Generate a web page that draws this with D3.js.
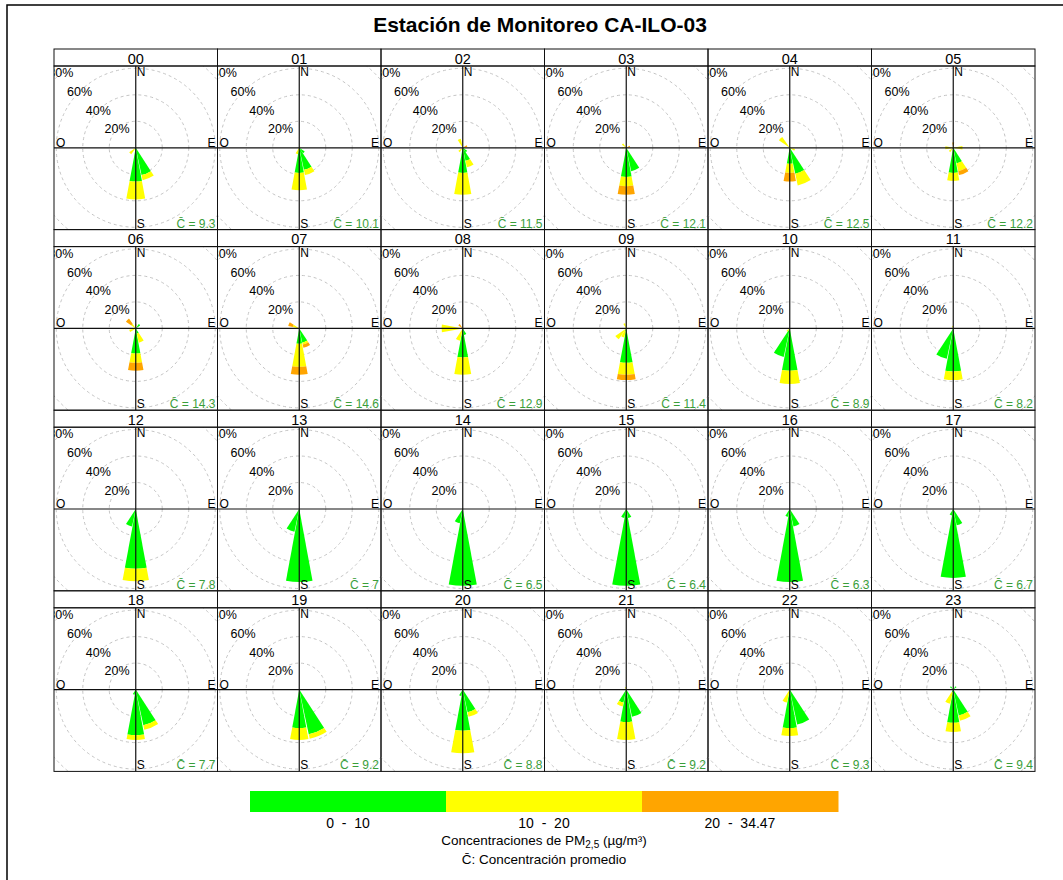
<!DOCTYPE html>
<html>
<head>
<meta charset="utf-8">
<script src="https://cdn.jsdelivr.net/npm/d3@7"></script>
<style>
body { margin: 0; background: #fff; }
svg text { font-family: "Liberation Sans", Arial, sans-serif; }
</style>
</head>
<body>
<script>
var hours = ["00","01","02","03","04","05","06","07","08","09","10","11",
	"12","13","14","15","16","17","18","19","20","21","22","23"]
var meanConc = ["9.3","10.1","11.5","12.1","12.5","12.2","14.3","14.6","12.9","11.4","8.9","8.2",
	"7.8","7","6.5","6.4","6.3","6.7","7.7","9.2","8.8","9.2","9.3","9.4"]
var binLabels = ["0  -  10", "10  -  20", "20  -  34.47"]
var binColors = ["#00ff00", "#ffff00", "#ffa500"]
var ringTicks = [20, 40, 60, 80]

// [hora, sector (0 = N, 16 sectores), % 0-10, % 10-20, % 20-34.47]
var petals = [
	[0,8,25.5,13.5,0],[0,7,21,4,0],[0,10,1,5,0],
	[1,8,19,13,0],[1,7,17,4,0],[1,6,5,0,0],[1,9,0.5,4.5,0],[1,1,0,1.5,0],
	[2,8,19,16.5,0],[2,7,10,5,0],[2,6,4,0,0],[2,15,0,7,0],[2,3,0,1,2.5],[2,10,0,4,0],
	[3,8,22,7,6.5],[3,7,18,0,0],[3,14,0,4,0],[3,3,0,0,3],[3,12,0,3,0],
	[4,8,12,7,6.5],[4,7,20,9,0],[4,14,0,10,0],[4,5,0,4,0],
	[5,8,19,6,0],[5,7,12,6,3],[5,12,0,6,0],[5,4,0,7,0],[5,0,0,0,4],[5,10,0,4,0],
	[6,8,19,7,6],[6,7,4,7,0],[6,14,0,4,5],[6,11,0,5,0],[6,2,4,0,0],[6,0,0,0,3],
	[7,8,11.5,17.5,6],[7,7,11,1.5,2.5],[7,13,0,5,3.5],
	[8,8,22,13,0],[8,7,5,0,0],[8,12,0,16,0],[8,14,0,0,4],[8,9,0,9.5,0],
	[9,8,26,9,4],[9,9,2,5,0],[9,10,0,10,0],[9,15,0,4,0],
	[10,8,32,10,0],[10,9,22,0,0],[10,10,0,3,0],
	[11,8,32.5,6.5,0],[11,9,23.5,0,0],[11,15,0,2,0],
	[12,8,45,9.5,0],[12,9,13.5,0,0],
	[13,8,55,0,0],[13,9,17.5,0,0],
	[14,8,58,0,0],[14,9,11,0,0],
	[15,8,58,0,0],[15,7,7,0,0],[15,9,7,0,0],
	[16,8,55,0,0],[16,7,13.5,0,0],[16,9,6,0,0],
	[17,8,52,0,0],[17,7,12.5,0,0],[17,9,5,0,0],
	[18,8,34.5,3.5,0],[18,7,27.5,3.5,0],[18,9,4,0,0],
	[19,8,29,9,0],[19,7,34.5,3.5,0],
	[20,8,31,17,0],[20,7,17.5,3.5,0],[20,9,5,0,0],
	[21,8,24.5,13.5,0],[21,7,21,0,0],[21,9,10,3,0],[21,15,0,2,0],
	[22,8,29,6,0],[22,7,27,0,0],[22,9,0,10,0],
	[23,8,25,7,0],[23,7,20,4,0],[23,9,2,9,0],[23,14,3,0,0],[23,2,3,0,0]
]

var w = 1063, h = 880
var svg = d3.select("body").append("svg").attr("width", w).attr("height", h)

//marco exterior
svg.append("rect")
	.attr("x", 7).attr("y", 5).attr("width", 1080).attr("height", 900)
	.attr("fill", "none").attr("stroke", "#000").attr("stroke-width", 1.5)

svg.append("text")
	.attr("x", 540).attr("y", 32)
	.attr("text-anchor", "middle")
	.style("font-size", "21px").style("font-weight", "bold")
	.text("Estación de Monitoreo CA-ILO-03")

var col = d3.scaleBand().domain(d3.range(6)).range([54, 1035])
var row = d3.scaleBand().domain(d3.range(4)).range([49, 771.4])
var headH = 17
var size = col.bandwidth()
var plotH = row.bandwidth() - headH

var r = d3.scaleLinear().domain([0, 60]).range([0, 79.5])
var dirAngle = d3.scaleLinear().domain([0, 16]).range([0, 2 * Math.PI])
var half = 10.5 * Math.PI / 180
var arc = d3.arc()

var petalsBy = d3.group(petals, function(d) { return d[0] })

hours.forEach(function(hr, i) {
	var g = svg.append("g")
		.attr("transform", "translate(" + col(i % 6) + "," + row(Math.floor(i / 6)) + ")")
	var cx = size / 2, cy = headH + plotH / 2

	g.append("clipPath").attr("id", "clip" + i)
		.append("rect").attr("x", 0).attr("y", headH).attr("width", size).attr("height", plotH)

	var plot = g.append("g").attr("clip-path", "url(#clip" + i + ")")
	var c = plot.append("g").attr("transform", "translate(" + cx + "," + cy + ")")

	//anillos
	c.selectAll("circle.ring").data(ringTicks).enter().append("circle")
		.attr("class", "ring")
		.attr("r", function(d) { return r(d) })
		.attr("fill", "none").attr("stroke", "#c4c4c4")
		.attr("stroke-dasharray", "3,3")

	//petalos apilados
	var rows = petalsBy.get(i) || []
	rows.forEach(function(p) {
		var a = dirAngle(p[1])
		var vals = p.slice(2)
		var cum = d3.cumsum(vals)
		vals.forEach(function(v, k) {
			if (v <= 0) return
			c.append("path")
				.attr("d", arc({
					innerRadius: r(cum[k] - v),
					outerRadius: r(cum[k]),
					startAngle: a - half,
					endAngle: a + half
				}))
				.attr("fill", binColors[k])
		})
	})

	//ejes
	c.append("line").attr("x1", -cx).attr("x2", size - cx).attr("y1", 0).attr("y2", 0)
		.attr("stroke", "#111").attr("stroke-width", 1.2)
	c.append("line").attr("x1", 0).attr("x2", 0).attr("y1", -plotH / 2).attr("y2", plotH / 2)
		.attr("stroke", "#111").attr("stroke-width", 1.2)

	c.selectAll("text.tick").data(ringTicks).enter().append("text")
		.attr("class", "tick")
		.attr("x", function(d) { return -r(d) * Math.SQRT1_2 })
		.attr("y", function(d) { return -r(d) * Math.SQRT1_2 })
		.attr("text-anchor", "middle").attr("dy", "0.35em")
		.style("font-size", "12.5px")
		.text(function(d) { return d + "%" })

	plot.append("text").attr("x", cx + 1).attr("y", headH + 10).style("font-size", "12px").text("N")
	plot.append("text").attr("x", cx + 1).attr("y", headH + plotH - 2).style("font-size", "12px").text("S")
	plot.append("text").attr("x", 2).attr("y", cy - 1).style("font-size", "12px").text("O")
	plot.append("text").attr("x", size - 2).attr("y", cy - 1).attr("text-anchor", "end")
		.style("font-size", "12px").text("E")

	plot.append("text")
		.attr("x", size - 2).attr("y", headH + plotH - 2)
		.attr("text-anchor", "end")
		.attr("fill", "#3a9e3a")
		.style("font-size", "12px")
		.text("C\u0304 = " + meanConc[i])

	//bordes
	g.append("rect").attr("x", 0).attr("y", 0).attr("width", size).attr("height", headH)
		.attr("fill", "none").attr("stroke", "#111")
	g.append("rect").attr("x", 0).attr("y", headH).attr("width", size).attr("height", plotH)
		.attr("fill", "none").attr("stroke", "#111")
	g.append("text")
		.attr("x", size / 2).attr("y", headH - 2.5)
		.attr("text-anchor", "middle")
		.style("font-size", "14.5px")
		.text(hr)
})

//leyenda
var lx = d3.scaleBand().domain(binLabels).range([250, 838])
svg.selectAll("rect.key").data(binLabels).enter().append("rect")
	.attr("class", "key")
	.attr("x", function(d) { return lx(d) })
	.attr("y", 791)
	.attr("width", lx.bandwidth() + 0.5)
	.attr("height", 21)
	.attr("fill", function(d, i) { return binColors[i] })

svg.selectAll("text.key").data(binLabels).enter().append("text")
	.attr("class", "key")
	.attr("x", function(d) { return lx(d) + lx.bandwidth() / 2 })
	.attr("y", 828)
	.attr("text-anchor", "middle")
	.style("font-size", "14px")
	.style("white-space", "pre")
	.attr("xml:space", "preserve")
	.text(function(d) { return d })

var unit = svg.append("text").attr("x", 544).attr("y", 845)
	.attr("text-anchor", "middle").style("font-size", "13.5px")
unit.append("tspan").text("Concentraciones de PM")
unit.append("tspan").attr("dy", 3).style("font-size", "10px").text("2,5")
unit.append("tspan").attr("dy", -3).text(" (µg/m³)")

svg.append("text").attr("x", 544).attr("y", 864)
	.attr("text-anchor", "middle").style("font-size", "13.5px")
	.text("C\u0304: Concentración promedio")
</script>
</body>
</html>
